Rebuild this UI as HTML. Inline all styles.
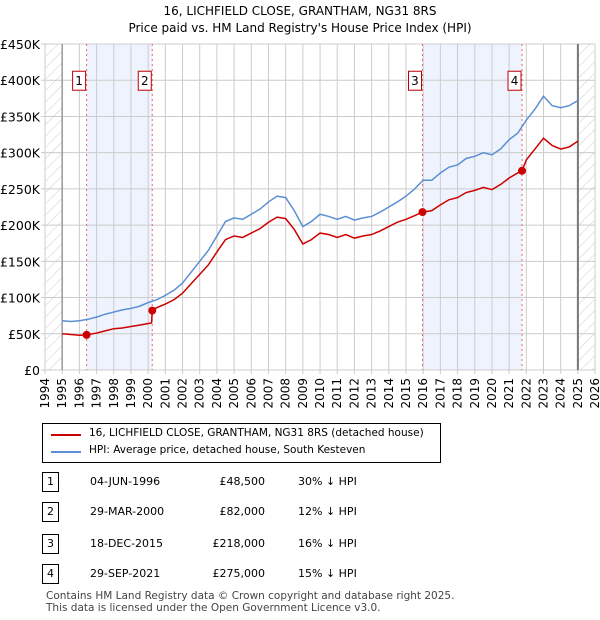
<!DOCTYPE html>
<html><head><meta charset="utf-8"><style>
body{margin:0;width:600px;height:620px;background:#fff;font-family:"DejaVu Sans","Liberation Sans",sans-serif;position:relative;overflow:hidden}
.t{position:absolute;font-size:12px;color:#000}
svg text{font-family:"DejaVu Sans","Liberation Sans",sans-serif}
</style></head><body>
<div class="t" style="left:0;width:600px;top:3px;text-align:center;font-size:12px;line-height:17px">16, LICHFIELD CLOSE, GRANTHAM, NG31 8RS<br>Price paid vs. HM Land Registry's House Price Index (HPI)</div>
<svg id="c" width="600" height="420" style="position:absolute;left:0;top:0"></svg>
<div style="position:absolute;left:42px;top:423px;width:397px;height:38px;border:1px solid #000">
 <div style="position:absolute;left:8px;top:10px;width:30px;height:2px;background:#cc0000"></div>
 <div class="t" style="left:46px;top:3px;font-size:10.5px">16, LICHFIELD CLOSE, GRANTHAM, NG31 8RS (detached house)</div>
 <div style="position:absolute;left:8px;top:27px;width:30px;height:2px;background:#5b8fd4"></div>
 <div class="t" style="left:46px;top:20px;font-size:10.5px">HPI: Average price, detached house, South Kesteven</div>
</div>
<div id="tbl"></div>
<div class="t" style="left:46px;top:590px;font-size:10.5px;color:#444;line-height:12px">Contains HM Land Registry data © Crown copyright and database right 2025.<br>This data is licensed under the Open Government Licence v3.0.</div>
<script>
const years=[1995,1995.5,1996,1996.5,1997,1997.5,1998,1998.5,1999,1999.5,2000,2000.5,2001,2001.5,2002,2002.5,2003,2003.5,2004,2004.5,2005,2005.5,2006,2006.5,2007,2007.5,2008,2008.5,2009,2009.5,2010,2010.5,2011,2011.5,2012,2012.5,2013,2013.5,2014,2014.5,2015,2015.5,2016,2016.5,2017,2017.5,2018,2018.5,2019,2019.5,2020,2020.5,2021,2021.5,2022,2022.5,2023,2023.5,2024,2024.5,2025];
const hpi=[68,67,68,70,73,77,80,83,85,88,93,97,103,110,120,135,150,165,185,205,210,208,215,222,232,240,238,220,198,205,215,212,208,212,207,210,212,218,225,232,240,250,262,262,272,280,283,292,295,300,297,305,318,327,345,360,378,365,362,365,372];
const redYears=[1995,1995.5,1996,1996.42,1997,1997.5,1998,1998.5,1999,1999.5,2000.2,2000.24,2000.5,2001,2001.5,2002,2002.5,2003,2003.5,2004,2004.5,2005,2005.5,2006,2006.5,2007,2007.5,2008,2008.5,2009,2009.5,2010,2010.5,2011,2011.5,2012,2012.5,2013,2013.5,2014,2014.5,2015,2015.5,2015.96,2016.5,2017,2017.5,2018,2018.5,2019,2019.5,2020,2020.5,2021,2021.5,2021.75,2022,2022.5,2023,2023.5,2024,2024.5,2025];
const redVals=[50,49,48,48.5,51,54,57,58,60,62,65,82,86,91,97,106,119,132,145,163,180,185,183,189,195,204,211,209,194,174,180,189,187,183,187,182,185,187,192,198,204,208,213,218,220,228,235,238,245,248,252,249,256,265,272,275,290,305,320,310,305,308,316];
const saleYears=[1996.42,2000.24,2015.96,2021.75];
const salePrices=[48.5,82,218,275];
const saleLabels=["1","2","3","4"];
const saleDates=["04-JUN-1996","29-MAR-2000","18-DEC-2015","29-SEP-2021"];
const salePriceText=["£48,500","£82,000","£218,000","£275,000"];
const saleHpiText=["30% ↓ HPI","12% ↓ HPI","16% ↓ HPI","15% ↓ HPI"];
const yTicks=[0,50,100,150,200,250,300,350,400,450];
const yTickLabels=["£0","£50K","£100K","£150K","£200K","£250K","£300K","£350K","£400K","£450K"];
const X=y=>45+(y-1994)*17.19, Y=v=>370-v*0.7244;
const s=document.getElementById('c'),NS='http://www.w3.org/2000/svg';
function el(t,a,p){const e=document.createElementNS(NS,t);for(const k in a)e.setAttribute(k,a[k]);(p||s).appendChild(e);return e}
let d=el('defs',{});let pt=el('pattern',{id:'h',width:8,height:8,patternUnits:'userSpaceOnUse',patternTransform:'rotate(45)'},d);el('line',{x1:0,y1:0,x2:0,y2:8,stroke:'#ccc','stroke-width':1},pt);
let r=el('rect',{x:X(1994),y:Y(450),width:X(1995)-X(1994),height:Y(0)-Y(450),fill:'url(#h)'});

r=el('rect',{x:X(2025),y:Y(450),width:X(2026)-X(2025),height:Y(0)-Y(450),fill:'url(#h)'});

[[0,1],[2,3]].forEach(([a,b])=>{const e=el('rect',{x:X(saleYears[a]),y:Y(450),width:X(saleYears[b])-X(saleYears[a]),height:Y(0)-Y(450),fill:'#eef3fd'});
});
for(let yr=1994;yr<=2026;yr++){el('line',{x1:X(yr),x2:X(yr),y1:Y(450),y2:Y(0)+4,stroke:'#ccc'});
 const t=el('text',{x:0,y:0,'font-size':12,'text-anchor':'end',transform:`translate(${X(yr)+4},${Y(0)+8}) rotate(-90)`});t.textContent=yr;
 }
yTicks.forEach((v,i)=>{el('line',{x1:X(1994)-4,x2:X(2026),y1:Y(v),y2:Y(v),stroke:'#ccc'});
 const t=el('text',{x:X(1994)-5,y:Y(v)+5,'font-size':12.5,'text-anchor':'end'});t.textContent=yTickLabels[i];
 });
el('line',{x1:X(1995),x2:X(1995),y1:Y(450),y2:Y(0),stroke:'#999','stroke-width':1.5});
el('line',{x1:X(2025),x2:X(2025),y1:Y(450),y2:Y(0),stroke:'#777','stroke-width':2});
saleYears.forEach((yr,i)=>{const l=el('line',{x1:X(yr),x2:X(yr),y1:Y(450),y2:Y(0),stroke:'#e66','stroke-dasharray':'2,3'});
 });
let p=el('polyline',{points:years.map((y,i)=>X(y)+','+Y(hpi[i])).join(' '),fill:'none',stroke:'#5b8fd4','stroke-width':1.5});

p=el('polyline',{points:redYears.map((y,i)=>X(y)+','+Y(redVals[i])).join(' '),fill:'none',stroke:'#cc0000','stroke-width':1.5});

saleYears.forEach((yr,i)=>{const c=el('circle',{cx:X(yr),cy:Y(salePrices[i]),r:4,fill:'#cc0000'});
 
 const g=el('g',{});
 el('rect',{x:X(yr)-14,y:Y(400)-9,width:13,height:19,fill:'#fff',stroke:'#b00'},g);
 const t=el('text',{x:X(yr)-7.5,y:Y(400)+5,'font-size':12,'text-anchor':'middle'},g);t.textContent=saleLabels[i];});
const tb=document.getElementById('tbl');
saleYears.forEach((yr,i)=>{const top=[472,502,534,564][i];
 tb.insertAdjacentHTML('beforeend',`<div>
 <div class="t" style="left:42px;top:${top}px;width:15px;height:18px;border:1px solid #000;text-align:center;line-height:18px;font-size:11px">${saleLabels[i]}</div>
 <div class="t" style="left:90px;top:${top+3}px;font-size:11px">${saleDates[i]}</div>
 <div class="t" style="left:190px;top:${top+3}px;width:75px;text-align:right;font-size:11px">${salePriceText[i]}</div>
 <div class="t" style="left:298px;top:${top+3}px;font-size:11px">${saleHpiText[i]}</div></div>`);});
</script></body></html>
